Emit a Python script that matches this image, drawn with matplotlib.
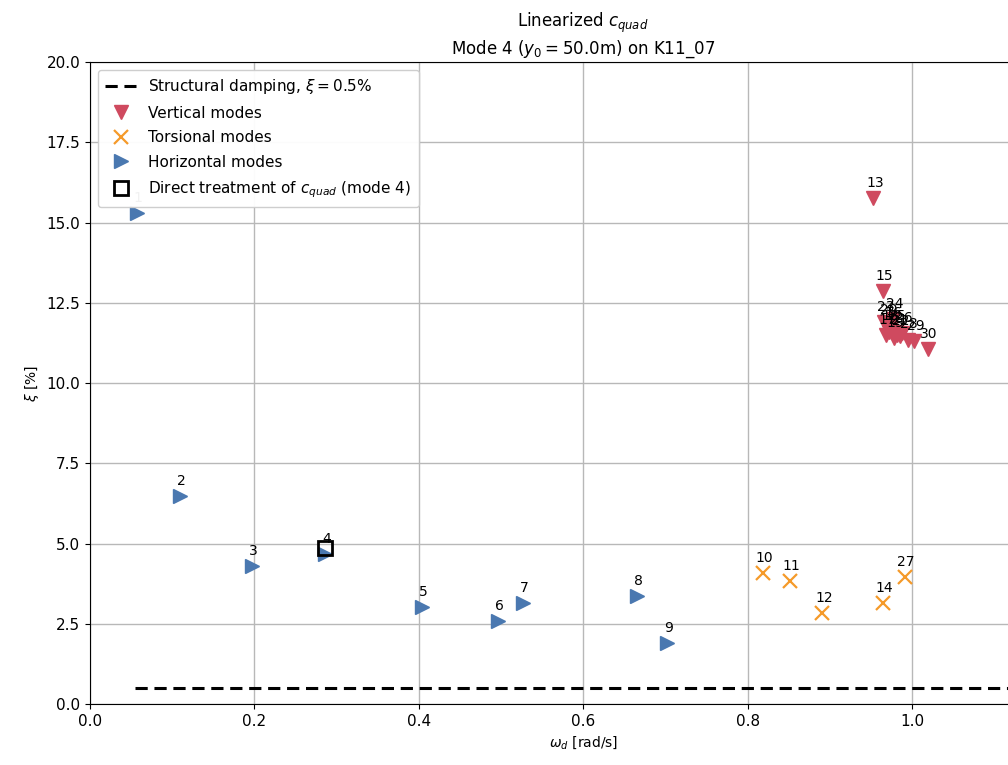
import matplotlib
matplotlib.use("Agg")
import matplotlib.pyplot as plt

# Horizontal modes
hor_modes = [1, 2, 3, 4, 5, 6, 7, 8, 9]
hor_freq = [0.057, 0.109, 0.197, 0.286, 0.404, 0.496, 0.527, 0.665, 0.702]
hor_damp = [15.30, 6.48, 4.30, 4.67, 3.02, 2.59, 3.15, 3.36, 1.90]

# Torsional modes
tor_modes = [10, 11, 12, 14, 27]
tor_freq = [0.819, 0.852, 0.891, 0.965, 0.991]
tor_damp = [4.08, 3.83, 2.83, 3.15, 3.96]

# Vertical modes
ver_modes = [13, 15, 16, 17, 18, 19, 20, 21, 22, 23, 24, 25, 26, 28, 29, 30]
ver_freq = [0.953, 0.965, 0.975, 0.968, 0.972, 0.978, 0.970, 0.982, 0.985,
            0.966, 0.977, 0.980, 0.988, 0.995, 1.003, 1.019]
ver_damp = [15.76, 12.87, 11.70, 11.50, 11.60, 11.40, 11.80, 11.50, 11.45,
            11.90, 12.00, 11.60, 11.55, 11.35, 11.30, 11.06]

# Direct treatment of c_quad for mode 4
direct_freq = [0.286]
direct_damp = [4.86]

# Structural damping level
struct_damp = 0.5
struct_range = [0.055, 1.25]

fig = plt.figure(figsize=(10.08, 7.65), dpi=100)
ax = fig.add_axes([0.0893, 0.0797, 1.2 * 822 / 1008, 0.8392])

ax.plot(struct_range, [struct_damp, struct_damp], "k--", lw=2.2, dashes=(4, 2.2),
        label=r"Structural damping, $\xi = 0.5\%$")
ax.plot(ver_freq, ver_damp, "v", color="#cf4a5f", ms=10, ls="none",
        label="Vertical modes")
ax.plot(tor_freq, tor_damp, "x", color="#f59a2a", ms=10, mew=1.6, ls="none",
        label="Torsional modes")
ax.plot(hor_freq, hor_damp, ">", color="#4a78b0", ms=10, ls="none",
        label="Horizontal modes")
ax.plot(direct_freq, direct_damp, "s", mfc="none", mec="black", ms=10, mew=2,
        ls="none", label=r"Direct treatment of $c_{quad}$ (mode 4)")

for modes, xs, ys in [(hor_modes, hor_freq, hor_damp),
                      (tor_modes, tor_freq, tor_damp),
                      (ver_modes, ver_freq, ver_damp)]:
    for m, x, y in zip(modes, xs, ys):
        ax.annotate(str(m), (x, y), xytext=(1, 6), textcoords="offset points",
                    ha="center", va="bottom", fontsize=10, zorder=3)

ax.set_xlim(0, 1.2)
ax.set_ylim(0, 20)
ax.set_xticks([0.0, 0.2, 0.4, 0.6, 0.8, 1.0])
ax.set_yticks([0.0, 2.5, 5.0, 7.5, 10.0, 12.5, 15.0, 17.5, 20.0])
ax.tick_params(labelsize=11)
ax.grid(True, color="#b8b8b8", lw=1)
ax.set_axisbelow(True)

ax.set_xlabel(r"$\omega_d$ [rad/s]", fontsize=10)
ax.set_ylabel(r"$\xi$ [%]", fontsize=10)
ax.set_title("Linearized $c_{quad}$\nMode 4 ($y_0 = 50.0$m) on K11_07", fontsize=12)

leg = ax.legend(loc="upper left", fontsize=11, framealpha=0.95, handlelength=2.0,
                labelspacing=0.62, borderpad=0.5)
leg.set_zorder(10)

fig.savefig("out.png", dpi=100)
